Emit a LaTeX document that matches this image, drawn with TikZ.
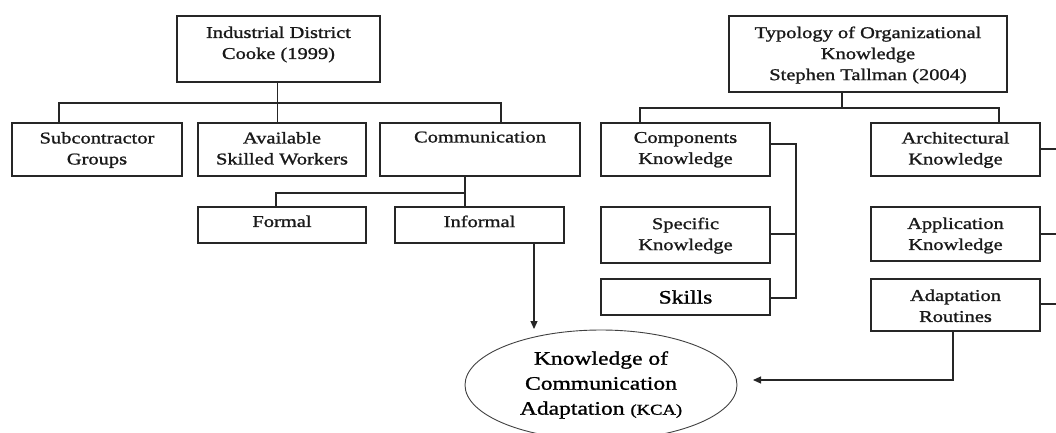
\documentclass[tikz,border=0pt]{standalone}
\usepackage{fontspec}
\setmainfont{Liberation Serif}[FakeStretch=1.24,FakeBold=1.2]
\usetikzlibrary{arrows.meta,shapes.geometric}
\newcommand\boxfont{\fontsize{16.5}{21}\selectfont}
\newcommand\bigfont{\fontsize{19}{25}\selectfont}
\begin{document}
\begin{tikzpicture}[x=1pt,y=-1pt,
  font=\boxfont,
  line width=1.2pt,
  wire/.style={draw=black!85},
  bx/.style 2 args={draw=black!85, rectangle, inner sep=0pt,
    minimum width=#1pt, minimum height=#2pt},
  hd/.style={anchor=north, inner sep=0pt, align=center, yshift=#1pt,
    text=black!90},
  tip/.style={-{Triangle[length=8pt,width=7pt]}},
]
\useasboundingbox (0,0) rectangle (1056,432);

% Industrial district branch
\node[bx={203}{66}, label={[hd=-10.5]north:Industrial District\\Cooke (1999)}] (ind) at (278.5,49) {};
\node[bx={170}{53}, label={[hd=-9]north:Subcontractor\\Groups}] (sub) at (97,149.5) {};
\node[bx={168}{53}, label={[hd=-9]north:Available\\Skilled Workers}] (avail) at (282,149.5) {};
\node[bx={200}{53}, label={[hd=-8.5]north:Communication}] (comm) at (480,149.5) {};
\node[bx={168}{36}, label={[hd=-8.5]north:Formal}] (formal) at (282,225) {};
\node[bx={169}{36}, label={[hd=-8.5]north:Informal}] (informal) at (479.5,225) {};

% Organizational knowledge branch
\node[bx={278}{76}, label={[hd=-10.5]north:Typology of Organizational\\Knowledge\\Stephen Tallman (2004)}] (typ) at (868,54) {};
\node[bx={169}{53}, label={[hd=-9]north:Components\\Knowledge}] (comp) at (685.5,149.5) {};
\node[bx={169}{53}, label={[hd=-9]north:Architectural\\Knowledge}] (arch) at (955.5,149.5) {};
\node[bx={169}{56}, label={[hd=-10.5]north:Specific\\Knowledge}] (spec) at (685.5,235) {};
\node[bx={169}{36}, font=\bigfont] (skills) at (685.5,297) {Skills};
\node[bx={169}{54}, label={[hd=-10.5]north:Application\\Knowledge}] (appl) at (955.5,234) {};
\node[bx={169}{52}, label={[hd=-10.5]north:Adaptation\\Routines}] (adapt) at (955.5,305) {};

% Outcome
\node[draw=black!75, line width=0.9pt, ellipse, inner sep=0pt,
  minimum width=272pt, minimum height=110pt, align=center, font=\bigfont]
  (kca) at (601,385) {Knowledge of\\Communication\\Adaptation {\fontsize{15}{25}\selectfont(KCA)}};

% Junction points
\coordinate (it) at (277.5,103);
\coordinate (bL) at (59,103);
\coordinate (bR) at (501,103);
\coordinate (cb) at (465,193);
\coordinate (cf) at (276,193);
\coordinate (ia) at (534,329);
\coordinate (tb) at (842,108);
\coordinate (tL) at (640,108);
\coordinate (tR) at (999,108);
\coordinate (cv) at (796,144);
\coordinate (aa) at (953,380);
\coordinate (ka) at (753,380);
\coordinate (edge) at (1056,0);

% Industrial district tree
\draw[wire] (it |- ind.south) -- (it |- avail.north);
\draw[wire] (bL |- sub.north) -- (bL) -- (bR) -- (bR |- comm.north);
\draw[wire] (cb |- comm.south) -- (cb |- informal.north);
\draw[wire] (cb) -- (cf) -- (cf |- formal.north);
\draw[wire, tip] (informal.south -| ia) -- (ia);

% Organizational knowledge tree
\draw[wire] (tb |- typ.south) -- (tb);
\draw[wire] (tL |- comp.north) -- (tL) -- (tR) -- (tR |- arch.north);
\draw[wire] (cv -| comp.east) -- (cv) -- (cv |- 0,298) -- (skills.east |- 0,298);
\draw[wire] (spec.east |- 0,234) -- (cv |- 0,234);
\draw[wire] (arch.east |- 0,149) -- (edge |- 0,149);
\draw[wire] (appl.east |- 0,234) -- (edge |- 0,234);
\draw[wire] (adapt.east |- 0,304) -- (edge |- 0,304);
\draw[wire, tip] (adapt.south -| aa) -- (aa) -- (ka);
\end{tikzpicture}
\end{document}
